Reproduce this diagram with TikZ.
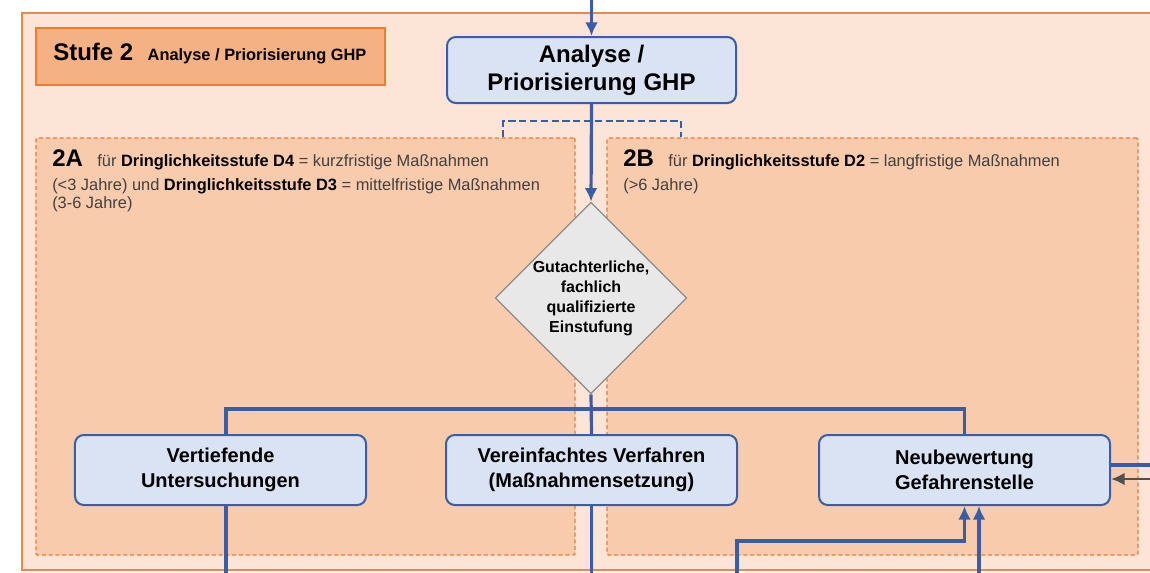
\documentclass[tikz,border=0pt]{standalone}
\usepackage{fontspec}
\setmainfont{Liberation Sans}
\usepackage{tikz}
\usetikzlibrary{arrows.meta,positioning,shapes.geometric}
\definecolor{pagebg}{HTML}{FCE4D6}
\definecolor{frame}{HTML}{E9894A}
\definecolor{stagebg}{HTML}{F4B183}
\definecolor{stageline}{HTML}{ED7D31}
\definecolor{zonebg}{HTML}{F8CBAD}
\definecolor{taskbg}{HTML}{DAE3F3}
\definecolor{flowc}{HTML}{3A5DA8}
\definecolor{checkbg}{HTML}{E8E8E8}
\definecolor{checkline}{HTML}{8C8C8C}
\definecolor{feedc}{HTML}{505050}
\newcommand{\bigfont}{\fontsize{6mm}{7mm}\selectfont}
\newcommand{\midfont}{\fontsize{5mm}{6.2mm}\selectfont}
\newcommand{\smallfont}{\fontsize{4.1mm}{4.5mm}\selectfont}
\newcommand{\zonetag}[1]{{\fontsize{6mm}{6mm}\selectfont\bfseries\color{black}#1}\hspace{3.6mm}}
\newcommand{\dstufe}[1]{\textbf{\color{black}#1}}
\tikzset{
  stagebox/.style={draw=stageline,line width=0.35mm,fill=stagebg,inner sep=0pt,
    minimum width=87.25mm,minimum height=14.25mm},
  zone/.style={draw=stageline,line width=0.35mm,dash pattern=on 1mm off 0.7mm,
    fill=zonebg,rounded corners=1pt,inner sep=0pt},
  task/.style={draw=flowc,line width=0.5mm,rounded corners=2.2mm,fill=taskbg,
    inner sep=2pt,align=center,minimum width=72.75mm,minimum height=17.5mm,
    font=\midfont\bfseries},
  check/.style={diamond,draw=checkline,line width=0.3mm,fill=checkbg,inner sep=0pt,
    minimum width=46.25mm,minimum height=46.25mm,align=center,
    font=\fontsize{4mm}{5mm}\selectfont\bfseries},
  zonetext/.style={anchor=north west,inner sep=0pt,align=left,font=\smallfont,
    text=black!75},
  link/.style={line width=0.8mm,draw=flowc},
  flow/.style={link,-{Latex[length=3.4mm,width=3.2mm]}},
  feed/.style={line width=0.7mm,draw=feedc,-{Latex[length=3.4mm,width=3.2mm]}},
  hint/.style={link,line width=0.7mm,dash pattern=on 1.8mm off 0.9mm},
}
\begin{document}
\begin{tikzpicture}[x=0.25mm,y=-0.25mm]
  \useasboundingbox (0,0) rectangle (1150,572);
  % stage frame and its two zones
  \draw[frame,fill=pagebg,line width=0.5mm] (22,13) rectangle (1175,570);
  \node[stagebox] (stufe) at (210.5,56.5) {};
  \node[anchor=base west,inner sep=0pt] (stufelbl) at (53,60)
    {\bigfont\bfseries Stufe 2\hspace{3.6mm}{\smallfont Analyse / Priorisierung GHP}};
  \node[zone,minimum width=134.75mm,minimum height=104.25mm] (zoneA) at (305.5,346.5) {};
  \node[zone,minimum width=132.75mm,minimum height=104.25mm] (zoneB) at (872.5,346.5) {};
  \node[zonetext] (textA) at (52,149)
    {\zonetag{2A}für \dstufe{Dringlichkeitsstufe D4} = kurzfristige Maßnahmen\\[1.5mm]
     (<3 Jahre) und \dstufe{Dringlichkeitsstufe D3} = mittelfristige Maßnahmen\\
     (3-6 Jahre)};
  \node[zonetext] (textB) at (623,149)
    {\zonetag{2B}für \dstufe{Dringlichkeitsstufe D2} = langfristige Maßnahmen\\[1.5mm]
     (>6 Jahre)};
  % flow
  \node[task,minimum width=72.25mm,minimum height=16.5mm,font=\bigfont\bfseries]
    (analyse) at (591.5,70) {Analyse /\\Priorisierung GHP};
  \node[check] (einstufung) at (591,298) {Gutachterliche,\\fachlich\\qualifizierte\\Einstufung};
  \node[task] (vertiefend) at (220.5,470) {Vertiefende\\Untersuchungen};
  \node[task] (vereinfacht) at (591.5,470) {Vereinfachtes Verfahren\\(Maßnahmensetzung)};
  \node[task] (neubewertung) at (964.5,470) {Neubewertung\\Gefahrenstelle};
  \coordinate (entry) at (591.5,-5);
  \coordinate (split) at (591.5,409);
  \coordinate (dl) at (503,121);
  \coordinate (dr) at (681,121);
  \coordinate (outR) at (1160,465);
  \coordinate (inR) at (1160,479);
  \coordinate (back) at (737,541);
  \coordinate (dropA) at (226,409);
  \coordinate (downA) at (226,580);
  \coordinate (downB) at (591.5,580);
  \coordinate (upA) at (737,580);
  \coordinate (upB) at (979,580);
  \draw[flow] (entry) -- (analyse.north);
  \draw[hint] (dl |- zoneA.north) -- (dl) -- (dr) -- (dr |- zoneB.north);
  \draw[flow] (analyse.south) -- (einstufung.north);
  \draw[link] (einstufung.south) -- (vereinfacht.north);
  \draw[link] (dropA |- vertiefend.north) -- (dropA) -- (split) -| (neubewertung.north);
  \draw[link] (dropA |- vertiefend.south) -- (downA);
  \draw[link] (vereinfacht.south) -- (downB);
  \draw[link] (neubewertung.east |- outR) -- (outR);
  \draw[feed] (inR) -- (neubewertung.east |- inR);
  \draw[flow] (upA) |- (back) -| (neubewertung.south);
  \draw[flow] (upB) -- (upB |- neubewertung.south);
\end{tikzpicture}
\end{document}
